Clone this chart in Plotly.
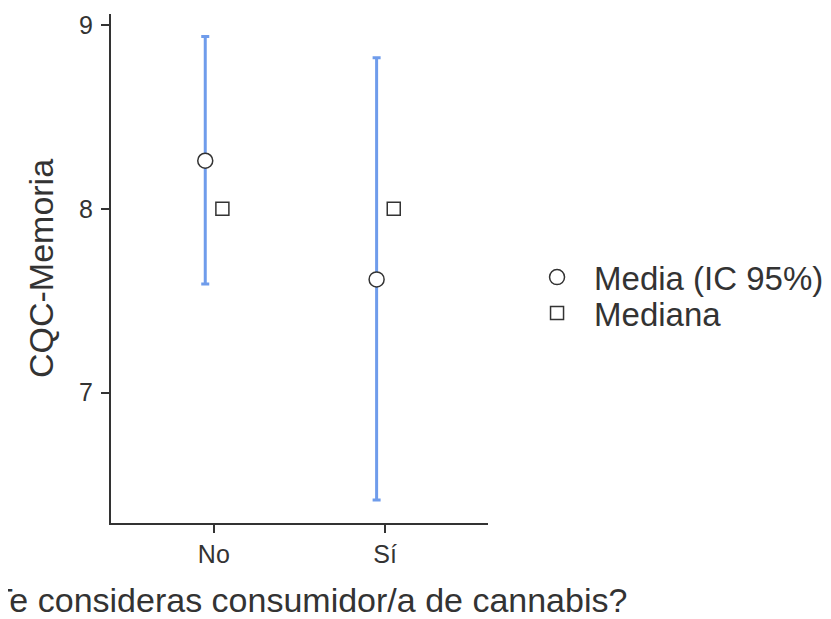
import plotly.graph_objects as go

categories = ["No", "Sí"]
mean_values = [8.262, 7.616]
ci_lower = [7.591, 6.416]
ci_upper = [8.937, 8.822]
median_values = [8.0, 8.0]
y_ticks = [7, 8, 9]

FONT = "Liberation Sans, Arial, sans-serif"
TXT = "#333333"
idx = list(range(len(categories)))
dodge = 0.05

fig = go.Figure()
fig.add_trace(go.Scatter(
    x=[i - dodge for i in idx], y=mean_values, mode="markers", name="Media (IC 95%)",
    legend="legend",
    marker=dict(symbol="circle", size=15, color="white", line=dict(color="#333333", width=1.5)),
    error_y=dict(type="data", symmetric=False,
                 array=[u - m for u, m in zip(ci_upper, mean_values)],
                 arrayminus=[m - l for m, l in zip(mean_values, ci_lower)],
                 color="#6f9ceb", thickness=3, width=4),
))
fig.add_trace(go.Scatter(
    x=[i + dodge for i in idx], y=median_values, mode="markers", name="Mediana",
    legend="legend2",
    marker=dict(symbol="square", size=13, color="white", line=dict(color="#333333", width=1.5)),
))

leg_common = dict(x=1.085, xanchor="left", yanchor="middle",
                  font=dict(size=33, color=TXT), itemwidth=64, bgcolor="rgba(0,0,0,0)")

fig.update_layout(
    width=823, height=611,
    margin=dict(l=103, r=343, t=6, b=96, autoexpand=False),
    paper_bgcolor="white", plot_bgcolor="white",
    font=dict(family=FONT, color=TXT),
    showlegend=True,
    legend=dict(y=0.483, **leg_common),
    legend2=dict(y=0.4125, **leg_common),
    xaxis=dict(
        range=[-0.6, 1.6], tickvals=idx, ticktext=categories,
        showgrid=False, zeroline=False, showline=True, linecolor="#333333", linewidth=2,
        ticks="outside", ticklen=8, tickwidth=2, tickcolor="#333333",
        tickfont=dict(size=25, color=TXT),
        title=dict(text="¿Te consideras consumidor/a de cannabis?", font=dict(size=34, color=TXT), standoff=23),
    ),
    yaxis=dict(
        range=[6.2905, 9.06], tickvals=y_ticks,
        showgrid=False, zeroline=False, showline=True, linecolor="#333333", linewidth=2,
        ticks="outside", ticklen=8, tickwidth=2, tickcolor="#333333",
        ticklabelstandoff=3,
        tickfont=dict(size=25, color=TXT),
        title=dict(text="CQC-Memoria", font=dict(size=34, color=TXT), standoff=15),
    ),
)
fig.write_html("out.html")
